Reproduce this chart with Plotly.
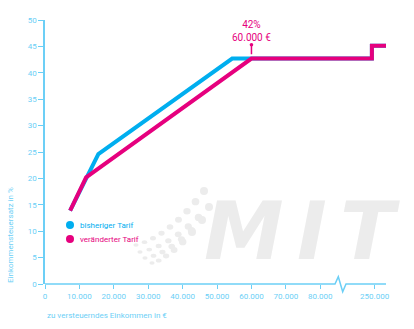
import plotly.graph_objects as go

# ---- data ----
income_bisher = [7300, 15500, 54400, 95000, 95000, 100000]
rate_bisher = [13.9, 24.6, 42.7, 42.7, 45.1, 45.1]
income_neu = [7300, 11950, 60000, 95000, 95000, 100000]
rate_neu = [13.9, 20.2, 42.7, 42.7, 45.1, 45.1]
x_tickvals = [0, 10000, 20000, 30000, 40000, 50000, 60000, 70000, 80000, 95800]
x_ticktext = ["0", "10.000", "20.000", "30.000", "40.000", "50.000", "60.000", "70.000", "80.000", "250.000"]
y_tickvals = [0, 5, 10, 15, 20, 25, 30, 35, 40, 45, 50]
series_names = ["bisheriger Tarif", "veränderter Tarif"]

BLUE = "#00aeef"
PINK = "#e6007e"
AXIS = "#6ccff6"
FONT = "Roboto"

W, H = 414, 329
L, R, T, B = 45, 28, 20, 45
PW, PH = W - L - R, H - T - B


def px(xp):
    return (xp - L) / PW


def py(yp):
    return (H - B - yp) / PH


fig = go.Figure()
fig.add_trace(go.Scatter(x=income_bisher, y=rate_bisher, mode="lines", name=series_names[0],
                         line=dict(color=BLUE, width=4), showlegend=False, hoverinfo="skip"))
fig.add_trace(go.Scatter(x=income_neu, y=rate_neu, mode="lines", name=series_names[1],
                         line=dict(color=PINK, width=4), showlegend=False, hoverinfo="skip"))

shapes = []
# x axis line with break
zig = (f"M {px(45)},0 L {px(335)},0 L {px(338.3)},{py(276.7)} L {px(342.7)},{py(291.7)} "
       f"L {px(346)},0 L 1,0")
shapes.append(dict(type="path", xref="paper", yref="paper", path=zig,
                   line=dict(color=AXIS, width=1.5)))

# watermark dots (logo decoration)
rows = [((204, 191), (170, 236), (136, 245)),
        ((209, 207), (172, 246), (140, 252)),
        ((202, 220), (170, 254), (145, 258)),
        ((192, 232), (168, 259), (152, 263))]
for ri, (p0, p1, p2) in enumerate(rows):
    n = 9 - ri
    for i in range(n):
        t = i / (n - 1)
        x = (1 - t) ** 2 * p0[0] + 2 * (1 - t) * t * p1[0] + t ** 2 * p2[0]
        y = (1 - t) ** 2 * p0[1] + 2 * (1 - t) * t * p1[1] + t ** 2 * p2[1]
        rx = 4.0 - 1.4 * t
        ry = rx * (1 - 0.35 * t)
        shapes.append(dict(type="circle", xref="paper", yref="paper", layer="below",
                           x0=px(x - rx), x1=px(x + rx), y0=py(y + ry), y1=py(y - ry),
                           fillcolor="#ececec", line=dict(width=0)))

annotations = [
    dict(text="<i><b>M\u2006I\u2006T</b></i>", xref="paper", yref="paper", x=px(302), y=py(231),
         showarrow=False, font=dict(family="DejaVu Sans", size=80, color="#ececec"),
         xanchor="center", yanchor="middle"),
    dict(text="42%<br>60.000 €", x=60000, y=43.5, xref="x", yref="y",
         showarrow=True, arrowhead=0, arrowside="end+start", startarrowhead=6, startarrowsize=0.6,
         arrowwidth=1.5, arrowcolor=PINK, ax=0, ay=-23, standoff=0, startstandoff=0,
         font=dict(family=FONT, size=10, color=PINK), align="center"),
    dict(text="Einkommensteuersatz in %", xref="paper", yref="paper", x=px(10), y=py(285),
         textangle=-90, showarrow=False, xanchor="center", yanchor="bottom",
         font=dict(family=FONT, size=8, color=AXIS)),
    dict(text="zu versteuerndes Einkommen in €", xref="paper", yref="paper", x=px(45), y=py(315),
         showarrow=False, xanchor="left", yanchor="middle",
         font=dict(family=FONT, size=8, color=AXIS)),
]

# legend built from the series names/colours
for k, (name, col) in enumerate(zip(series_names, [BLUE, PINK])):
    cy = 225 + 14 * k
    shapes.append(dict(type="circle", xref="paper", yref="paper",
                       x0=px(66), x1=px(74), y0=py(cy + 4), y1=py(cy - 4),
                       fillcolor=col, line=dict(width=0)))
    annotations.append(dict(text=name, xref="paper", yref="paper", x=px(77.5), y=py(cy),
                            showarrow=False, xanchor="left", yanchor="middle",
                            font=dict(family=FONT, size=8, color=col)))

fig.update_layout(
    width=W, height=H, margin=dict(l=L, r=R, t=T, b=B),
    paper_bgcolor="white", plot_bgcolor="white",
    font=dict(family=FONT, size=8, color=AXIS),
    shapes=shapes, annotations=annotations, showlegend=False,
    xaxis=dict(range=[0, 99100], tickvals=x_tickvals, ticktext=x_ticktext, showgrid=False,
               zeroline=False, showline=False, ticks="outside", ticklen=4, tickcolor=AXIS,
               tickwidth=1.2, tickfont=dict(family=FONT, size=8, color=AXIS)),
    yaxis=dict(range=[0, 50], tickvals=y_tickvals, showgrid=False, zeroline=False,
               showline=True, linecolor=AXIS, linewidth=1.5, ticks="outside", ticklen=5,
               tickcolor=AXIS, tickwidth=1.2, tickfont=dict(family=FONT, size=8, color=AXIS)),
)

fig.write_html("out.html")
